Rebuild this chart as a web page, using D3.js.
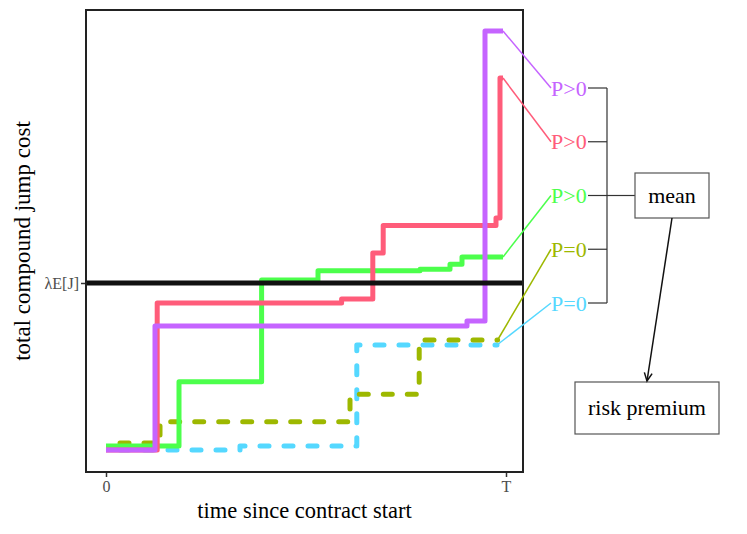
<!DOCTYPE html>
<html lang="en">
<head>
  <meta charset="utf-8"/>
  <title>total compound jump cost</title>
  <script src="https://cdn.jsdelivr.net/npm/d3@7/dist/d3.min.js"></script>
  <style>
    html, body { margin:0; padding:0; background:#fff; overflow:hidden; }
    svg { display:block; font-family:"Liberation Serif", "DejaVu Serif", serif; }
  </style>
</head>
<body>
  <svg width="747" height="534"></svg>

  <script>
  // --- data (time: 0..T with T = 1, cost in arbitrary units) ---
  const seriesLabels = ["P>0", "P>0", "P>0", "P=0", "P=0"];
  const seriesColors = ["#c564ff", "#ff5c7a", "#4cff4c", "#9db800", "#55d8ff"];
  const seriesDashed = [false, false, false, true, true];
  // jump times and level after each jump
  const jumpTimes = [
    [0, 0.1225, 0.9025, 0.9475],
    [0, 0.128, 0.589, 0.667, 0.693, 0.975, 0.985],
    [0, 0.1825, 0.389, 0.53, 0.785, 0.86, 0.89],
    [0, 0.135, 0.61, 0.783],
    [0, 0.335, 0.627]
  ];
  const levels = [
    [0, 12.4, 12.9, 41.9],
    [0, 14.7, 15.1, 19.7, 22.45, 23.2, 37.2],
    [0.4, 6.83, 17.0, 17.93, 18.07, 18.57, 19.3],
    [0.7, 2.83, 5.57, 11.0],
    [0, 0.4, 10.5]
  ];
  const endTimes = [0.9925, 0.9925, 0.9925, 0.979, 0.9775];
  const lambdaEJ = 16.7;
  const xTicks = [0, 1], xTickLabels = ["0", "T"];

  const svg = d3.select("svg");

  // panel
  const P = { left:86, right:523, top:10, bottom:472 };
  const x = d3.scaleLinear().domain([-0.05, 1.0425]).range([P.left, P.right]);
  const y = d3.scaleLinear().domain([-2.2, 44]).range([P.bottom, P.top]);

  const line = d3.line().x(d => x(d[0])).y(d => y(d[1])).curve(d3.curveStepAfter);

  const series = seriesLabels.map((lab, i) => {
    const pts = jumpTimes[i].map((t, j) => [t, levels[i][j]]);
    pts.push([endTimes[i], levels[i][levels[i].length - 1]]);
    return { lab, color: seriesColors[i], dashed: seriesDashed[i], pts };
  });

  // draw order: dashed first, purple last (on top)
  const order = [4, 3, 2, 1, 0];
  svg.append("g").selectAll("path")
    .data(order.map(i => series[i]))
    .join("path")
      .attr("d", d => line(d.pts))
      .attr("fill", "none")
      .attr("stroke", d => d.color)
      .attr("stroke-width", 5)
      .attr("stroke-linejoin", "round")
      .attr("stroke-linecap", d => d.dashed ? "round" : "butt")
      .attr("stroke-dasharray", d => d.dashed ? "9,15" : null)
      .attr("stroke-dashoffset", d => d.dashed ? 10 : null);

  // lambda E[J] reference line
  svg.append("line")
    .attr("x1", P.left).attr("x2", P.right)
    .attr("y1", y(lambdaEJ)).attr("y2", y(lambdaEJ))
    .attr("stroke", "#111").attr("stroke-width", 5);

  // panel border
  svg.append("rect")
    .attr("x", P.left).attr("y", P.top)
    .attr("width", P.right - P.left).attr("height", P.bottom - P.top)
    .attr("fill", "none").attr("stroke", "#222").attr("stroke-width", 2);

  // axes
  const xAxis = svg.append("g")
    .attr("transform", `translate(0,${P.bottom + 1})`)
    .call(d3.axisBottom(x).tickValues(xTicks).tickFormat((d, i) => xTickLabels[i])
      .tickSize(4).tickPadding(4));
  const yAxis = svg.append("g")
    .attr("transform", `translate(${P.left - 1},0)`)
    .call(d3.axisLeft(y).tickValues([lambdaEJ]).tickFormat(() => "λE[J]")
      .tickSize(4).tickPadding(2));
  [xAxis, yAxis].forEach(g => {
    g.select(".domain").remove();
    g.selectAll(".tick line").attr("stroke", "#333").attr("stroke-width", 1.5);
    g.selectAll(".tick text")
      .attr("fill", "#4d4d4d")
      .style("font-family", "'Liberation Serif', serif")
      .style("font-size", "16px");
  });

  // axis titles
  svg.append("text")
    .attr("x", (P.left + P.right) / 2).attr("y", 518)
    .attr("text-anchor", "middle")
    .style("font-size", "22.5px")
    .text("time since contract start");
  svg.append("text")
    .attr("transform", `translate(30,${(P.top + P.bottom) / 2}) rotate(-90)`)
    .attr("text-anchor", "middle")
    .style("font-size", "23px")
    .text("total compound jump cost");

  // labels + leader lines
  const labX = 551, labTop = 88, labBottom = 303;
  const labY = d3.scalePoint().domain(d3.range(series.length)).range([labTop, labBottom]);
  series.forEach((s, i) => {
    const end = s.pts[s.pts.length - 1];
    svg.append("line")
      .attr("x1", x(end[0])).attr("y1", y(end[1]))
      .attr("x2", labX).attr("y2", labY(i))
      .attr("stroke", s.color).attr("stroke-width", 1.5);
    svg.append("text")
      .attr("x", labX).attr("y", labY(i))
      .attr("dy", "0.35em")
      .attr("fill", s.color)
      .style("font-size", "22px")
      .text(s.lab);
  });

  // bracket
  const brX0 = 588, brX1 = 607;
  const br = svg.append("g").attr("stroke", "#333").attr("stroke-width", 1.2).attr("fill", "none");
  series.forEach((s, i) => {
    br.append("line").attr("x1", brX0).attr("x2", brX1).attr("y1", labY(i)).attr("y2", labY(i));
  });
  br.append("line").attr("x1", brX1).attr("x2", brX1).attr("y1", labTop).attr("y2", labBottom);
  const midY = labY(2);

  // boxes
  function box(x0, y0, w, h, txt) {
    svg.append("rect")
      .attr("x", x0).attr("y", y0).attr("width", w).attr("height", h)
      .attr("fill", "#fff").attr("stroke", "#555").attr("stroke-width", 1.2);
    svg.append("text")
      .attr("x", x0 + w / 2).attr("y", y0 + h / 2).attr("dy", "0.32em")
      .attr("text-anchor", "middle")
      .style("font-size", "22px")
      .text(txt);
  }
  const meanBox = { x:635, y:173, w:74, h:45 };
  const riskBox = { x:575, y:382, w:144, h:52 };
  br.append("line").attr("x1", brX1).attr("x2", meanBox.x).attr("y1", midY).attr("y2", midY);
  box(meanBox.x, meanBox.y, meanBox.w, meanBox.h, "mean");
  box(riskBox.x, riskBox.y, riskBox.w, riskBox.h, "risk premium");

  // arrow mean -> risk premium
  const a0 = [672, meanBox.y + meanBox.h], a1 = [647, riskBox.y - 1];
  const ang = Math.atan2(a1[1] - a0[1], a1[0] - a0[0]);
  const hl = 9, hw = 0.45;
  svg.append("line")
    .attr("x1", a0[0]).attr("y1", a0[1]).attr("x2", a1[0]).attr("y2", a1[1])
    .attr("stroke", "#111").attr("stroke-width", 1.5);
  svg.append("path")
    .attr("d", `M${a1[0] - hl * Math.cos(ang - hw)},${a1[1] - hl * Math.sin(ang - hw)}
                L${a1[0]},${a1[1]}
                L${a1[0] - hl * Math.cos(ang + hw)},${a1[1] - hl * Math.sin(ang + hw)}`)
    .attr("fill", "none").attr("stroke", "#111").attr("stroke-width", 1.5);
  </script>
</body>
</html>
